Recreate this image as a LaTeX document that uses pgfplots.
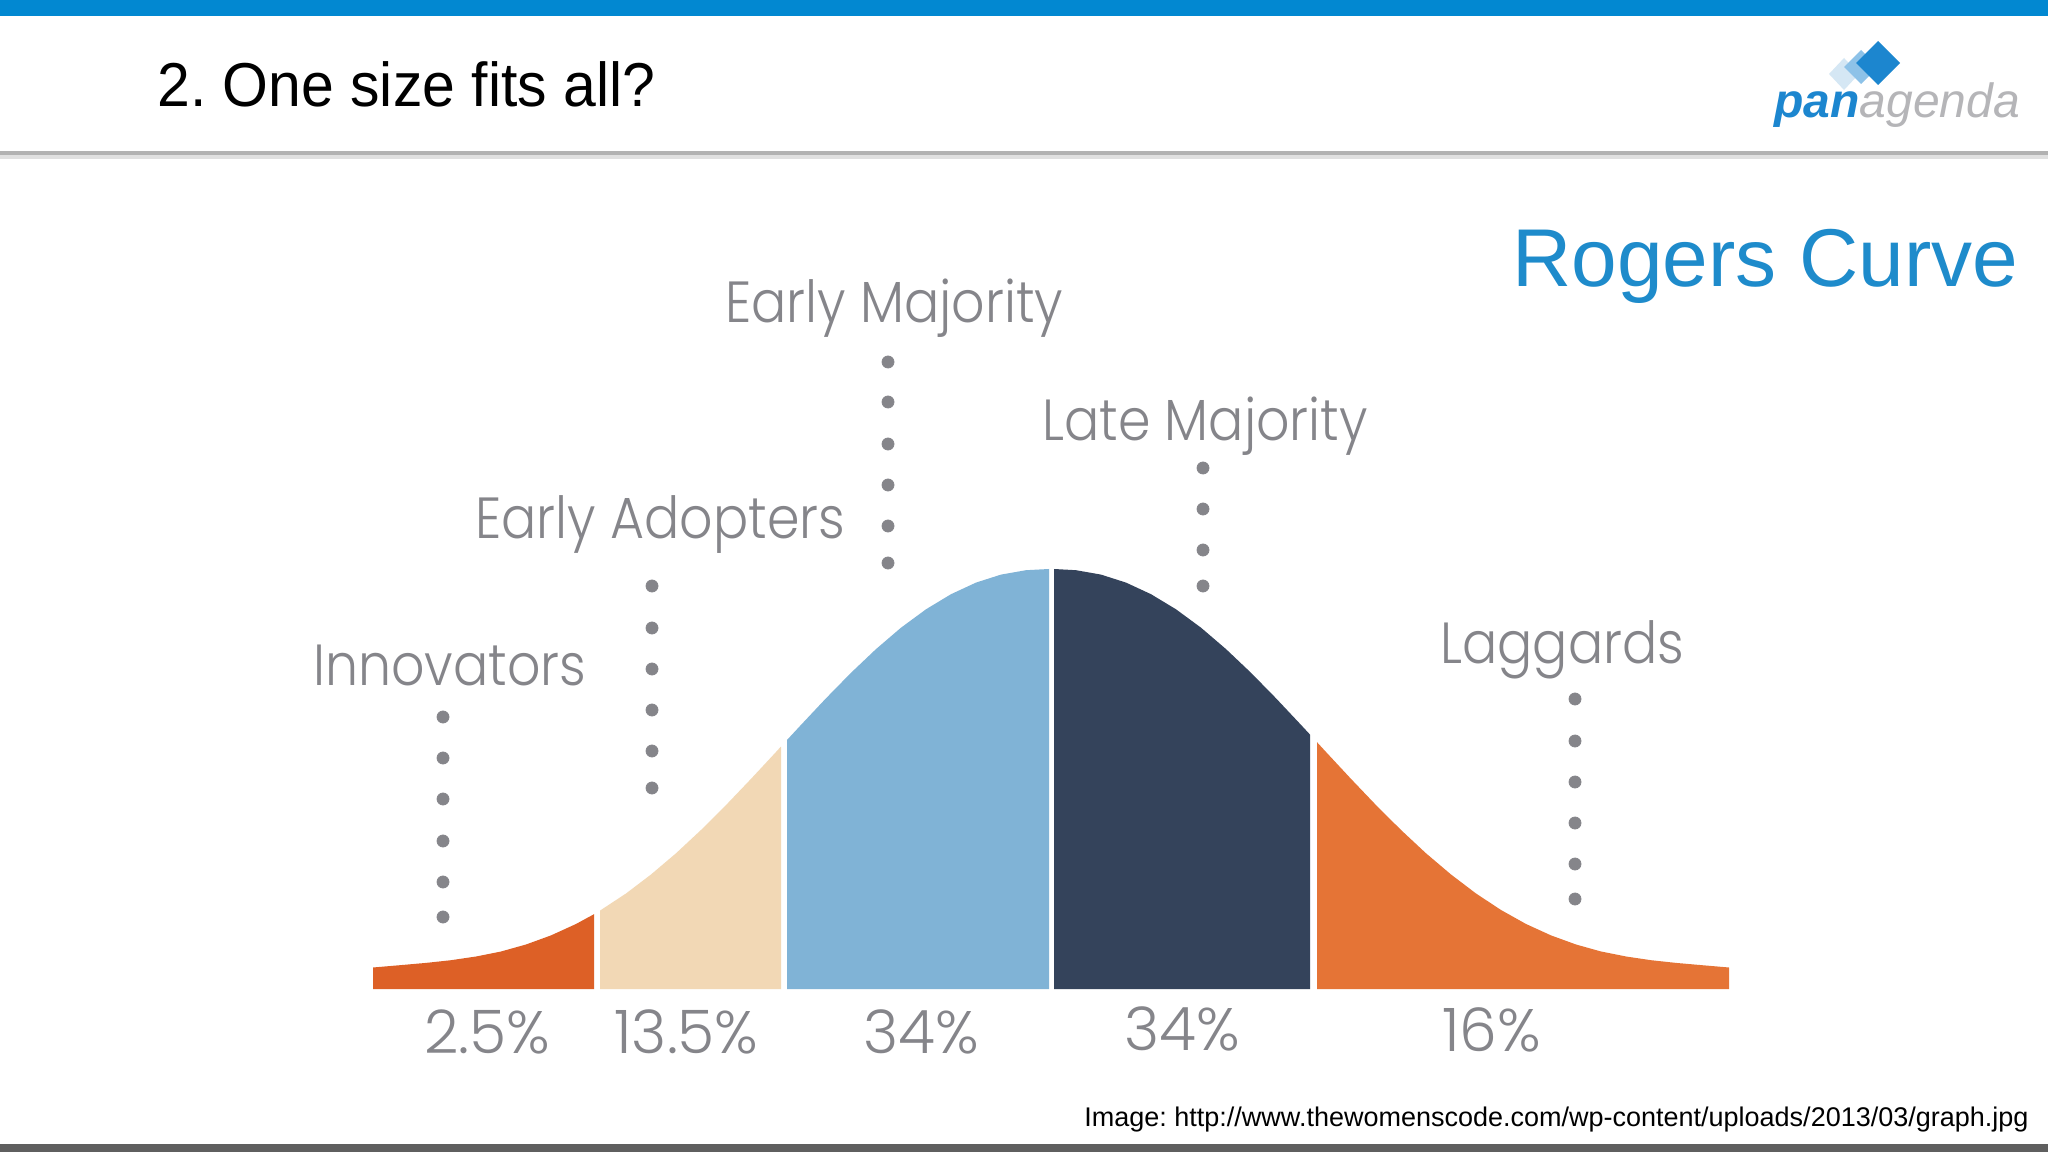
\documentclass[border=0pt]{standalone}
\usepackage{pgfplots}
\pgfplotsset{compat=1.18}
\usepackage{fontspec}
\usepackage{graphicx}
\setmainfont{Liberation Sans}
\newfontfamily\labfont{Poppins}[UprightFont=* Light]
\definecolor{topblue}{HTML}{0288D1}
\definecolor{rogblue}{HTML}{1E8BCB}
\definecolor{logoblue}{HTML}{1C86CF}
\definecolor{logomid}{HTML}{8DC2E8}
\definecolor{logolight}{HTML}{D5E7F4}
\definecolor{logogray}{HTML}{B5B5B8}
\definecolor{labgray}{HTML}{85858A}
\definecolor{dotgray}{HTML}{85858A}
\definecolor{innov}{HTML}{DD6026}
\definecolor{adopt}{HTML}{F2D8B5}
\definecolor{emaj}{HTML}{80B3D6}
\definecolor{lmaj}{HTML}{34435B}
\definecolor{lagg}{HTML}{E57436}
\definecolor{botgray}{HTML}{5F5F5F}
\newcommand{\lab}[1]{\scalebox{0.9}[1]{#1}}
\begin{document}
\frenchspacing
\begin{tikzpicture}
% ---------- page layer (pixel coordinates, y upwards) ----------
\begin{axis}[at={(0pt,0pt)}, anchor=south west, width=1024pt, height=576pt,
  scale only axis, xmin=0, xmax=2048, ymin=0, ymax=1152, hide axis, clip=false]
\fill[white] (axis cs:0,0) rectangle (axis cs:2048,1152);
\fill[topblue] (axis cs:0,1136) rectangle (axis cs:2048,1152);
\fill[black!30] (axis cs:0,997) rectangle (axis cs:2048,1001);
\fill[black!12] (axis cs:0,993) rectangle (axis cs:2048,997);
\fill[botgray] (axis cs:0,0) rectangle (axis cs:2048,8);
% title
\node[anchor=base west, inner sep=0pt, font=\fontsize{31}{37}\selectfont] at (axis cs:157,1045) {\scalebox{0.95}[1]{2. One size fits all?}};
% logo
\fill[logolight] (axis cs:1844,1094) -- (axis cs:1859,1078) -- (axis cs:1844,1062) -- (axis cs:1829,1078) -- cycle;
\fill[logomid] (axis cs:1861,1102) -- (axis cs:1878,1085) -- (axis cs:1861,1068) -- (axis cs:1844,1085) -- cycle;
\fill[logoblue] (axis cs:1878,1111) -- (axis cs:1900,1089) -- (axis cs:1878,1067) -- (axis cs:1856,1089) -- cycle;
\node[anchor=base west, inner sep=0pt, font=\fontsize{24}{28}\selectfont] at (axis cs:1774,1034) {\textcolor{logoblue}{\bfseries\itshape pan}\textcolor{logogray}{\itshape agenda}};
% big subtitle
\node[anchor=base west, inner sep=0pt, text=rogblue, font=\fontsize{41}{48}\selectfont] at (axis cs:1512,865) {Rogers Curve};
% category labels
\node[anchor=base west, inner sep=0pt, text=labgray, font=\labfont\fontsize{29}{34}\selectfont] at (axis cs:725,829) {\lab{Early Majority}};
\node[anchor=base west, inner sep=0pt, text=labgray, font=\labfont\fontsize{29}{34}\selectfont] at (axis cs:1042,711) {\lab{Late Majority}};
\node[anchor=base west, inner sep=0pt, text=labgray, font=\labfont\fontsize{29}{34}\selectfont] at (axis cs:475,613) {\lab{Early Adopters}};
\node[anchor=base west, inner sep=0pt, text=labgray, font=\labfont\fontsize{29}{34}\selectfont] at (axis cs:313,466) {\lab{Innovators}};
\node[anchor=base west, inner sep=0pt, text=labgray, font=\labfont\fontsize{29}{34}\selectfont] at (axis cs:1440,488) {\lab{Laggards}};
% percentages
\node[anchor=base west, inner sep=0pt, text=labgray, font=\labfont\fontsize{30}{35}\selectfont] at (axis cs:424,99) {2.5\%};
\node[anchor=base west, inner sep=0pt, text=labgray, font=\labfont\fontsize{30}{35}\selectfont] at (axis cs:614,99) {13.5\%};
\node[anchor=base west, inner sep=0pt, text=labgray, font=\labfont\fontsize{30}{35}\selectfont] at (axis cs:863,99) {34\%};
\node[anchor=base west, inner sep=0pt, text=labgray, font=\labfont\fontsize{30}{35}\selectfont] at (axis cs:1124,102) {34\%};
\node[anchor=base west, inner sep=0pt, text=labgray, font=\labfont\fontsize{30}{35}\selectfont] at (axis cs:1442,101) {16\%};
% source
\node[anchor=base west, inner sep=0pt, font=\fontsize{13.5}{16}\selectfont] at (axis cs:1084,26) {Image: http://www.thewomenscode.com/wp-content/uploads/2013/03/graph.jpg};
% dotted leaders
\addplot[only marks, mark=*, mark size=3pt, color=dotgray] coordinates {
 (443,435) (443,394) (443,353) (443,311) (443,270) (443,235)
 (652,566) (652,524) (652,483) (652,442) (652,401) (652,364)
 (888,790) (888,750) (888,708) (888,667) (888,626) (888,589)
 (1203,684) (1203,643) (1203,602) (1203,566)
 (1575,453) (1575,411) (1575,370) (1575,329) (1575,288) (1575,253)
};
\end{axis}
% ---------- bell curve (x in pixels, y = height above baseline) ----------
\begin{axis}[at={(186.5pt,81.5pt)}, anchor=south west, width=678pt, height=210pt,
  scale only axis, xmin=373, xmax=1729, ymin=0, ymax=420, hide axis, clip=false]
\addplot[fill=innov, draw=none] coordinates {
 (373,21.5) (401,23.9) (426,26.1) (451,28.8) (476,32.5) (501,37.5) (526,44.5) (551,53.6) (576,65.0) (594,74.8)
} \closedcycle;
\addplot[fill=adopt, draw=none] coordinates {
 (600,78.4) (626,95.5) (651,114.5) (676,135.7) (701,159.0) (726,183.9) (751,210.1) (776,237.0) (781,242.5)
} \closedcycle;
\addplot[fill=emaj, draw=none] coordinates {
 (787,249.0) (801,264.1) (826,290.7) (851,316.2) (876,339.9) (901,361.3) (926,379.7) (951,394.8) (976,406.4) (1001,414.4) (1026,418.8) (1049,420)
} \closedcycle;
\addplot[fill=lmaj, draw=none] coordinates {
 (1054,420) (1076,418.8) (1101,414.4) (1126,406.4) (1151,394.8) (1176,379.7) (1201,361.3) (1226,339.9) (1251,316.2) (1276,290.7) (1301,264.1) (1310,254.4)
} \closedcycle;
\addplot[fill=lagg, draw=none] coordinates {
 (1317,246.8) (1326,237.0) (1351,210.1) (1376,183.9) (1401,159.0) (1426,135.7) (1451,114.5) (1476,95.5) (1501,79.0) (1526,65.0) (1551,53.6) (1576,44.5) (1601,37.5) (1626,32.5) (1651,28.8) (1676,26.1) (1701,23.9) (1729,21.5)
} \closedcycle;
\end{axis}
\end{tikzpicture}
\end{document}
